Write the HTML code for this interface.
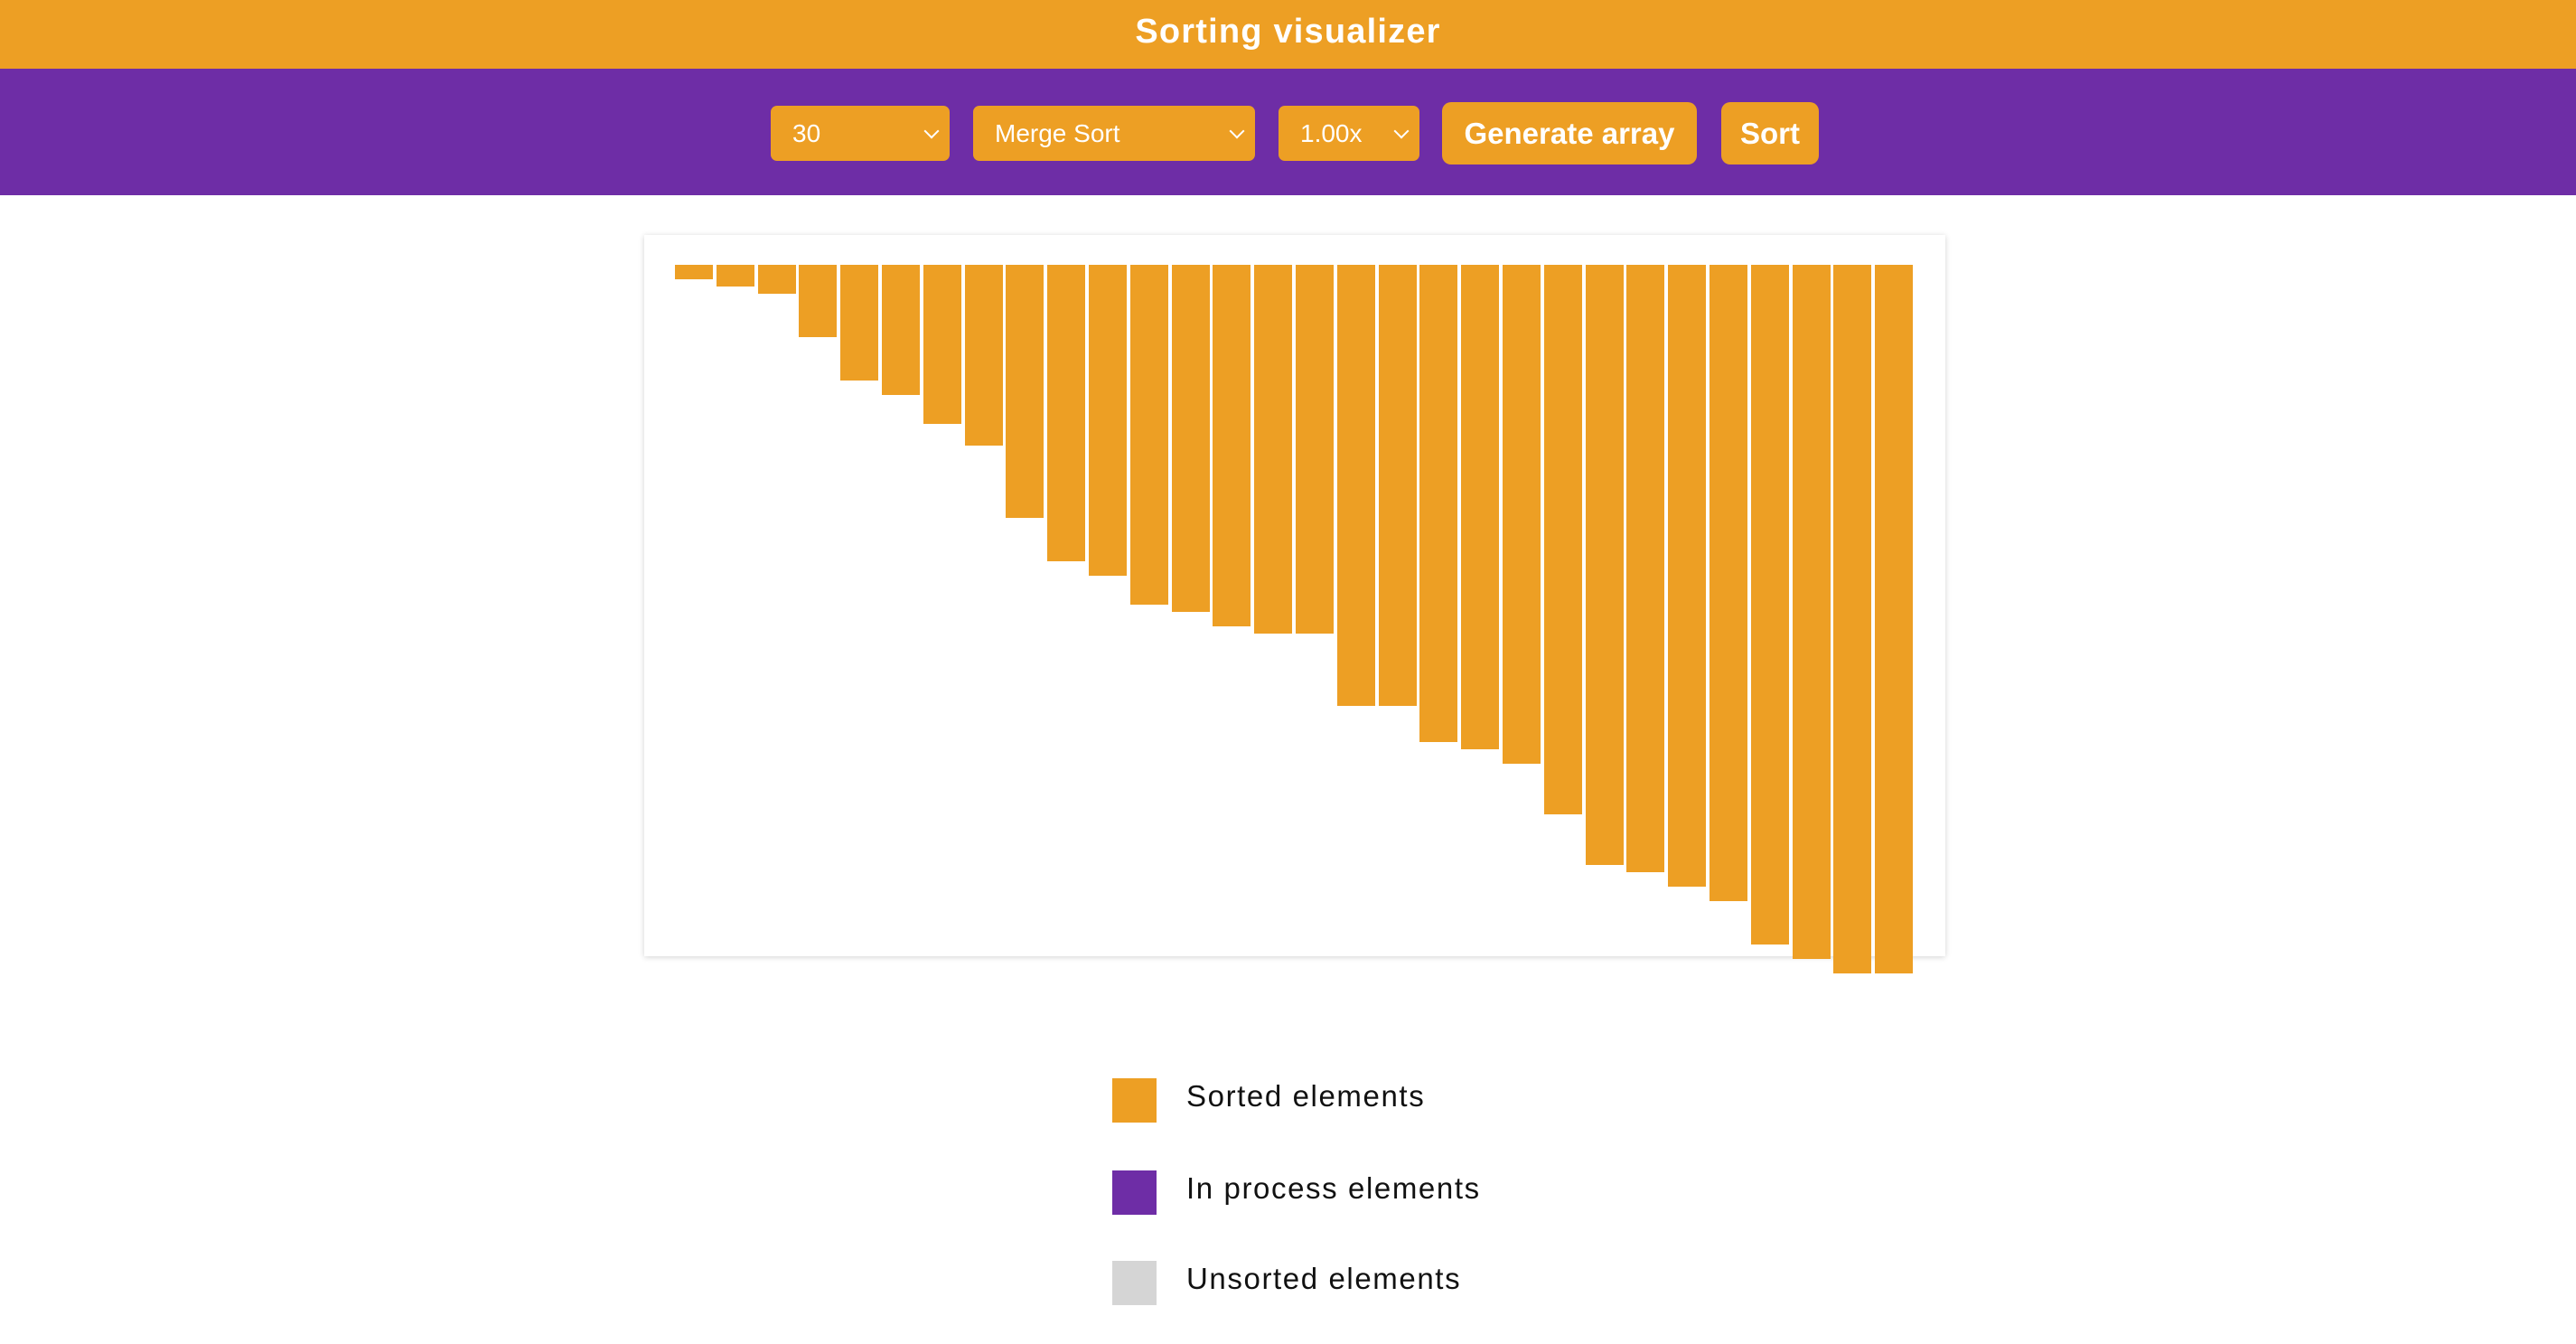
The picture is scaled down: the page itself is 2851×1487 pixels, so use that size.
<!DOCTYPE html>
<html><head><meta charset="utf-8"><style>
*{margin:0;padding:0;box-sizing:border-box}
body{width:2851px;height:1487px;background:#fff;font-family:"Liberation Sans",sans-serif;position:relative;overflow:hidden}
.hdr{position:absolute;left:0;top:0;width:2851px;height:76px;background:#ED9F24;color:#fff;font-weight:bold;font-size:38px;letter-spacing:1.2px;text-align:center;line-height:70px}
.bar{position:absolute;left:0;top:76px;width:2851px;height:140px;background:#6E2DA6}
.sel,.btn{position:absolute;background:#ED9F24;color:#fff;border-radius:7px}
.sel{top:117px;height:61px;font-size:28px;line-height:61px;padding-left:24px}
.sel::after{content:"";position:absolute;right:14px;top:22px;width:10px;height:10px;border-right:2px solid #fff;border-bottom:2px solid #fff;transform:rotate(45deg)}
.btn{top:113px;height:69px;font-size:33px;font-weight:bold;line-height:69px;text-align:center;border-radius:10px}
.chart{position:absolute;left:713px;top:260px;width:1440px;height:798px;background:#fff;box-shadow:0 1px 6px rgba(0,0,0,0.18)}
.lg{position:absolute;left:1231px;width:49px;height:49px}
.lt{position:absolute;left:1313px;font-size:33px;letter-spacing:1.6px;color:#111;line-height:49px}
</style></head><body>
<div class="hdr">Sorting visualizer</div>
<div class="bar"></div>
<div class="sel" style="left:853px;width:198px">30</div>
<div class="sel" style="left:1077px;width:312px">Merge Sort</div>
<div class="sel" style="left:1415px;width:156px">1.00x</div>
<div class="btn" style="left:1596px;width:282px">Generate array</div>
<div class="btn" style="left:1905px;width:108px">Sort</div>
<div class="chart" id="chart"></div>
<div class="lg" style="top:1193px;background:#ED9F24"></div>
<div class="lt" style="top:1188px">Sorted elements</div>
<div class="lg" style="top:1295px;background:#6E2DA6"></div>
<div class="lt" style="top:1290px">In process elements</div>
<div class="lg" style="top:1395px;background:#D5D5D5"></div>
<div class="lt" style="top:1390px">Unsorted elements</div>
<script>
const values=[2,3,4,10,16,18,22,25,35,41,43,47,48,50,51,51,61,61,66,67,69,76,83,84,86,88,94,96,98,98];
const status=values.map(()=> 'sorted');
const chart=document.getElementById('chart');
const x0=34,pitch=45.8,bw=42,top0=33,unit=8;
function xPos(i){return x0+i*pitch;}
function hPx(v){return v*unit;}
values.forEach((v,i)=>{
  const d=document.createElement('div');
  
  
  d.style.cssText='position:absolute;background:#ED9F24;left:'+xPos(i)+'px;top:'+top0+'px;width:'+bw+'px;height:'+hPx(v)+'px';
  chart.appendChild(d);
});
</script>
</body></html>
